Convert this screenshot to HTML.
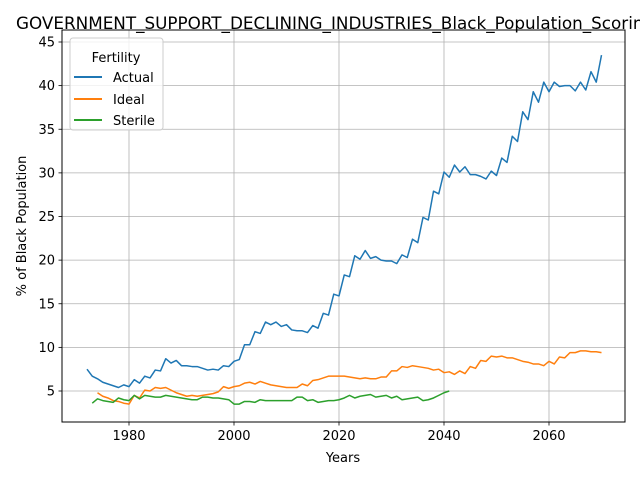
<!DOCTYPE html>
<html><head><meta charset="utf-8"><style>
html,body{margin:0;padding:0;background:#fff;}
svg{display:block;font-family:"DejaVu Sans","Liberation Sans",sans-serif;}
</style></head><body>
<svg id="chart" width="640" height="480" viewBox="0 0 640 480">
<rect width="640" height="480" fill="#fff"/>
<text x="16" y="29" font-size="16.8" fill="#000">GOVERNMENT_SUPPORT_DECLINING_INDUSTRIES_Black_Population_Scoring</text>
<g id="grid"></g>
<g id="series"></g>
<rect x="62" y="30" width="563" height="392" fill="none" stroke="#000" stroke-width="1"/>
<g id="axes"></g>
<text x="343" y="462" font-size="13" text-anchor="middle">Years</text>
<text transform="translate(26,226) rotate(-90)" font-size="13" text-anchor="middle">% of Black Population</text>
<g>
<rect x="70" y="38" width="93" height="92" rx="3" fill="#fff" fill-opacity="0.8" stroke="#ccc"/>
<text x="116" y="62" font-size="13" text-anchor="middle">Fertility</text>
<line x1="74" y1="77" x2="102" y2="77" stroke="#1f77b4" stroke-width="2"/>
<text x="113" y="82" font-size="13">Actual</text>
<line x1="74" y1="99" x2="102" y2="99" stroke="#ff7f0e" stroke-width="2"/>
<text x="113" y="104" font-size="13">Ideal</text>
<line x1="74" y1="120" x2="102" y2="120" stroke="#2ca02c" stroke-width="2"/>
<text x="113" y="125" font-size="13">Sterile</text>
</g>
</svg>
<script>
const actualStart = 1972;
const actualValues = [7.5,6.7,6.4,6.0,5.8,5.6,5.4,5.7,5.5,6.3,5.9,6.7,6.5,7.4,7.3,8.7,8.2,8.5,7.9,7.9,7.8,7.8,7.6,7.4,7.5,7.4,7.9,7.8,8.4,8.6,10.3,10.3,11.8,11.6,12.9,12.6,12.9,12.4,12.6,12.0,11.9,11.9,11.7,12.5,12.2,13.9,13.7,16.1,15.9,18.3,18.1,20.5,20.1,21.1,20.2,20.4,20.0,19.9,19.9,19.6,20.6,20.3,22.4,22.0,24.9,24.6,27.9,27.6,30.1,29.5,30.9,30.1,30.7,29.8,29.8,29.6,29.3,30.2,29.7,31.7,31.2,34.2,33.6,37.0,36.1,39.3,38.1,40.4,39.3,40.4,39.9,40.0,40.0,39.4,40.4,39.5,41.6,40.4,43.5];
const idealStart = 1974;
const idealValues = [4.8,4.4,4.2,3.9,3.8,3.6,3.5,4.5,4.2,5.1,5.0,5.4,5.3,5.4,5.1,4.8,4.6,4.4,4.5,4.4,4.5,4.6,4.7,4.9,5.5,5.3,5.5,5.6,5.9,6.0,5.8,6.1,5.9,5.7,5.6,5.5,5.4,5.4,5.4,5.8,5.6,6.2,6.3,6.5,6.7,6.7,6.7,6.7,6.6,6.5,6.4,6.5,6.4,6.4,6.6,6.6,7.3,7.3,7.8,7.7,7.9,7.8,7.7,7.6,7.4,7.5,7.1,7.2,6.9,7.3,7.0,7.8,7.6,8.5,8.4,9.0,8.9,9.0,8.8,8.8,8.6,8.4,8.3,8.1,8.1,7.9,8.4,8.1,8.9,8.8,9.4,9.4,9.6,9.6,9.5,9.5,9.4];
const sterileStart = 1973;
const sterileValues = [3.6,4.1,3.9,3.8,3.7,4.2,4.0,3.9,4.5,4.1,4.5,4.4,4.3,4.3,4.5,4.4,4.3,4.2,4.1,4.0,4.0,4.3,4.3,4.2,4.2,4.1,4.0,3.5,3.5,3.8,3.8,3.7,4.0,3.9,3.9,3.9,3.9,3.9,3.9,4.3,4.3,3.9,4.0,3.7,3.8,3.9,3.9,4.0,4.2,4.5,4.2,4.4,4.5,4.6,4.3,4.4,4.5,4.2,4.4,4.0,4.1,4.2,4.3,3.9,4.0,4.2,4.5,4.8,5.0];
const xTicks = [1980,2000,2020,2040,2060];
const yTicks = [5,10,15,20,25,30,35,40,45];

const NS = "http://www.w3.org/2000/svg";
function xs(year){ return 129 + (year - 1980) * 5.25; }
function ys(v){ return 391 - (v - 5) * 8.725; }
function mk(tag, attrs, parent){ const e = document.createElementNS(NS, tag); for (const k in attrs) e.setAttribute(k, attrs[k]); parent.appendChild(e); return e; }

const grid = document.getElementById('grid');
const axes = document.getElementById('axes');
xTicks.forEach(t => {
  const g = mk('line', {x1: xs(t), x2: xs(t), y1: 30, y2: 422, stroke: '#b0b0b0', 'stroke-width': 0.8}, grid);
  
  
  const tk = mk('line', {x1: xs(t), x2: xs(t), y1: 422, y2: 425.5, stroke: '#000', 'stroke-width': 0.8}, axes);
  
  
  const tl = mk('text', {x: xs(t), y: 440, 'font-size': 13, 'text-anchor': 'middle'}, axes);
  tl.textContent = t;
  
  
});
yTicks.forEach(t => {
  const g = mk('line', {x1: 62, x2: 625, y1: ys(t), y2: ys(t), stroke: '#b0b0b0', 'stroke-width': 0.8}, grid);
  
  
  const tk = mk('line', {x1: 58.5, x2: 62, y1: ys(t), y2: ys(t), stroke: '#000', 'stroke-width': 0.8}, axes);
  
  
  const tl = mk('text', {x: 55, y: ys(t) + 4.5, 'font-size': 13, 'text-anchor': 'end'}, axes);
  tl.textContent = t;
  
  
});

const series = document.getElementById('series');
function drawLine(start, vals, color, name){
  const pts = vals.map((v, i) => xs(start + i).toFixed(2) + ',' + ys(v).toFixed(2)).join(' ');
  const p = mk('polyline', {points: pts, fill: 'none', stroke: color, 'stroke-width': 1.5, 'stroke-linejoin': 'round'}, series);
  
  
}
drawLine(actualStart, actualValues, '#1f77b4', 'actual-line');
drawLine(idealStart, idealValues, '#ff7f0e', 'ideal-line');
drawLine(sterileStart, sterileValues, '#2ca02c', 'sterile-line');
</script>
</body></html>
